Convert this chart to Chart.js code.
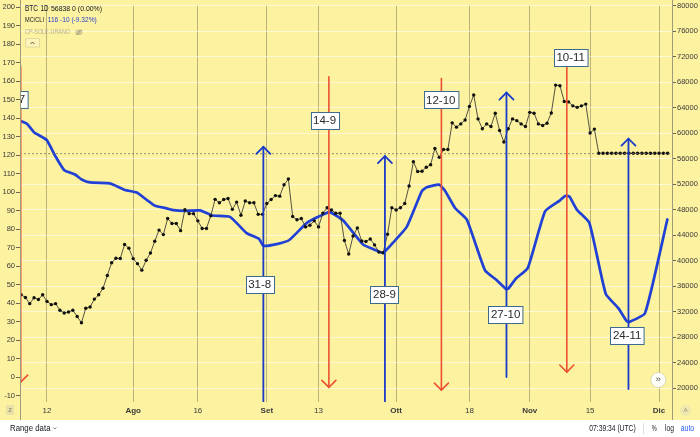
<!DOCTYPE html>
<html><head><meta charset="utf-8">
<script src="https://cdn.jsdelivr.net/npm/chart.js@4.4.1/dist/chart.umd.min.js"></script>
<style>html,body{margin:0;padding:0;background:#fff;}#wrap{width:700px;height:437px;position:relative;}</style>
</head><body><div id="wrap"><canvas id="c"></canvas></div>
<script>
// ---- data ----
const priceStartDay = -6; // day 0 = 12 July
const priceValues = [
34650,34230,33260,34180,33920,34650,33610,33100,33260,32220,31800,31960,32220,31250,30260,32530,32730,33970,34650,35670,
37680,39670,40370,40340,42530,41960,40310,39530,38510,40060,41190,43040,44790,44080,46600,45830,45830,44700,47990,47370,
47370,46240,45050,45050,47020,49610,49070,49580,49740,48040,49180,47110,49340,49070,49070,47260,47260,48970,49580,50200,
50110,51900,52790,46910,46400,46600,45290,45560,46240,45290,47450,48300,47950,47420,47420,43150,41030,43860,45130,43090,
43000,43400,42470,41340,41230,44130,48300,47950,48300,48970,51700,55520,53980,54020,54640,55030,57580,56190,57420,57420,
61600,60930,61440,62060,64180,65980,62220,60670,61440,61030,63100,60410,58610,60670,62220,61950,61440,61030,63250,63100,
61440,61180,61550,63150,67520,67430,64950,64890,64270,64030,64270,64540,60010,60620,
56838,56838,56838,56838,56838,56838,56838,56838,56838,56838,56838,56838,56838,56838,56838,56838,56838];
const lastPrice = 56838;
const mcDays = [-6.1,-4.7,-2.95,-0.07,1.86,4.01,6.5,8.05,9.98,14.62,15.78,18.1,20.81,23.13,25.06,27.77,29.3,32.02,35.5,38.4,
42.46,46.33,49.19,50.19,53.29,56.22,60.44,65.27,66.06,68.72,73.36,75.64,77.96,78.42,79.98,83.46,86.94,88.1,90.95,92.34,
94.66,97.38,101.62,104.34,106.5,107.03,108.82,111.53,115.55,119.03,120.19,121.18,122.9,125.82,129.63,132.55,134.5,135.1,138.75,143.92];
const mcValues = [138.5,137.1,132.3,128.2,119.8,111.9,109.6,106.9,105.3,104.8,103.7,101.2,99.8,95.9,92.7,91.3,90.3,89.9,90.2,87.4,
86.7,77.9,74.8,71.1,72.0,74.2,83.7,89.2,88.8,84.7,71.7,69.3,67.2,68.1,72.0,81.3,100.5,102.7,104.1,100.8,
91.5,85.3,57.8,52.5,47.7,48.0,53.4,59.0,89.7,95.6,98.0,97.7,90.6,83.5,45.1,37.4,30.3,29.9,34.7,85.3];
const xTickDays = [0,20,35,51,63,81,98,112,126,142];
const xTickLabels = ['12','Ago','16','Set','13','Ott','18','Nov','15','Dic'];
const monthLabels = ['Ago','Set','Ott','Nov','Dic'];
const leftTicks = [-10,0,10,20,30,40,50,60,70,80,90,100,110,120,130,140,150,160,170,180,190,200];
const rightTicks = [20000,24000,28000,32000,36000,40000,44000,48000,52000,56000,60000,64000,68000,72000,76000,80000];
// cycle markers (left-axis units)
const markLabels = ['6-7','31-8','14-9','28-9','12-10','27-10','10-11','24-11'];
const markDir    = ['down','up','down','up','down','up','down','up'];
const markDays   = [-6.1,50.2,65.4,78.4,91.5,106.6,120.6,134.9];
const markTail   = [167.8,-13.3,162.3,-13.3,161.4,0.2,174.2,-6.3];
const markTip    = [-2.6,124.5,-5.4,119.5,-6.9,153.8,2.9,128.9];
const boxDays    = [-7.0,49.35,64.4,78.3,91.35,106.4,121.5,134.6];
const boxLevels  = [150.2,50.1,138.8,45.0,149.9,34.0,172.6,22.8];

const FONT = '"Liberation Sans", Arial, sans-serif';
const BG = '#fcf2a0';
const BLUE = '#2040d6';
const ARROW_BLUE = '#1a3bc9';
const RED = '#ef4f33';

function fitText(ctx, s, x, y, w, px, color, weight) {
  ctx.save();
  ctx.font = (weight || 'normal') + ' ' + px + 'px ' + FONT;
  const m = ctx.measureText(s).width;
  ctx.translate(x, y);
  ctx.scale(w / m, 1);
  ctx.fillStyle = color;
  ctx.textBaseline = 'middle';
  ctx.textAlign = 'left';
  ctx.fillText(s, 0, 0);
  ctx.restore();
}

const bgPlugin = {
  id: 'bg',
  beforeDraw(chart) {
    const ctx = chart.ctx;
    ctx.save();
    ctx.fillStyle = BG;
    ctx.fillRect(0, 0, chart.width, 420);
    ctx.fillStyle = '#ffffff';
    ctx.fillRect(0, 420, chart.width, chart.height - 420);
    ctx.restore();
  }
};

const annotPlugin = {
  id: 'annot',
  afterDatasetsDraw(chart) {
    const {ctx, chartArea: a, scales} = chart;
    const x = scales.x, y = scales.y, y1 = scales.y1;
    ctx.save();
    ctx.beginPath();
    ctx.rect(a.left, a.top, a.right - a.left, a.bottom - a.top);
    ctx.clip();
    // last price dashed line
    const py = y1.getPixelForValue(lastPrice);
    ctx.strokeStyle = '#7d765c';
    ctx.lineWidth = 0.8;
    ctx.setLineDash([2, 2]);
    ctx.beginPath(); ctx.moveTo(a.left, py + 0.5); ctx.lineTo(a.right, py + 0.5); ctx.stroke();
    ctx.setLineDash([]);
    // arrows
    for (let i = 0; i < markDays.length; i++) {
      const px = x.getPixelForValue(markDays[i]);
      const t = y.getPixelForValue(markTail[i]);
      const p = y.getPixelForValue(markTip[i]);
      const up = markDir[i] === 'up';
      ctx.strokeStyle = up ? ARROW_BLUE : RED;
      ctx.lineWidth = up ? 1.8 : 1.6;
      ctx.lineCap = 'round';
      ctx.beginPath(); ctx.moveTo(px, t); ctx.lineTo(px, p); ctx.stroke();
      const d = up ? 7 : -7;
      ctx.beginPath();
      ctx.moveTo(px - 7, p + d); ctx.lineTo(px, p); ctx.lineTo(px + 7, p + d);
      ctx.stroke();
    }
    // label boxes
    ctx.font = '11.5px ' + FONT;
    ctx.textBaseline = 'middle';
    ctx.textAlign = 'center';
    for (let i = 0; i < markLabels.length; i++) {
      const cx = x.getPixelForValue(boxDays[i]);
      const cy = y.getPixelForValue(boxLevels[i]);
      const w = ctx.measureText(markLabels[i]).width + 5;
      const h = 17;
      const bx = Math.round(cx - w / 2) + 0.5, by = Math.round(cy - h / 2) + 0.5;
      ctx.fillStyle = '#ffffff';
      ctx.fillRect(bx, by, w, h);
      ctx.strokeStyle = '#3d6a8e';
      ctx.lineWidth = 1;
      ctx.strokeRect(bx, by, w, h);
      ctx.fillStyle = '#2a2a2a';
      ctx.fillText(markLabels[i], cx, cy + 0.5);
    }
    ctx.restore();
  },
  afterDraw(chart) {
    const ctx = chart.ctx;
    const a = chart.chartArea;
    ctx.save();
    // axis separators
    ctx.strokeStyle = '#a09a7c';
    ctx.lineWidth = 1;
    ctx.beginPath();
    ctx.moveTo(a.left + 0.5, 0); ctx.lineTo(a.left + 0.5, 420);
    ctx.moveTo(a.right + 0.5, 0); ctx.lineTo(a.right + 0.5, 420);
    ctx.stroke();
    // header legend
    fitText(ctx, 'BTC', 25, 8.5, 13, 9, '#131722');
    fitText(ctx, '1D', 40.5, 8.5, 8, 9, '#131722');
    fitText(ctx, '56838 0 (0.00%)', 51, 9, 51, 7.5, '#131722');
    fitText(ctx, 'MC/CLI', 25, 20, 19, 7, '#131722');
    fitText(ctx, '116 -10 (-9.32%)', 47.7, 20, 49, 7.5, '#2a3ecf');
    fitText(ctx, 'CP-SOLE-URANO', 25, 32.3, 45, 7.5, '#b7b094');
    // eye icon
    ctx.strokeStyle = '#9d977c';
    ctx.lineWidth = 0.8;
    ctx.beginPath(); ctx.ellipse(79, 32.3, 3, 2.2, 0, 0, Math.PI * 2); ctx.stroke();
    ctx.beginPath(); ctx.arc(79, 32.3, 1, 0, Math.PI * 2); ctx.stroke();
    ctx.beginPath(); ctx.moveTo(76, 35); ctx.lineTo(82, 29.5); ctx.stroke();
    // collapse box
    ctx.strokeStyle = '#d9d1a0';
    ctx.fillStyle = 'rgba(255,255,255,0.25)';
    ctx.beginPath(); ctx.rect(25.5, 38.5, 14, 8.5); ctx.fill(); ctx.stroke();
    ctx.strokeStyle = '#333';
    ctx.beginPath(); ctx.moveTo(30.5, 44); ctx.lineTo(32.5, 42); ctx.lineTo(34.5, 44); ctx.stroke();
    // scroll button
    ctx.fillStyle = 'rgba(255,255,255,0.95)';
    ctx.beginPath(); ctx.arc(658.3, 380, 7.5, 0, Math.PI * 2); ctx.fill();
    ctx.strokeStyle = '#c8c2a4';
    ctx.lineWidth = 0.6; ctx.stroke();
    fitText(ctx, '\u00bb', 655.5, 379.5, 5.5, 9, '#555');
    // bottom-left corner icon
    ctx.fillStyle = '#e9e1a6';
    ctx.fillRect(6, 405, 8, 10);
    fitText(ctx, 'z', 8.2, 410.5, 3.8, 7, '#8a8670');
    // bottom-right corner icon
    ctx.fillStyle = '#efe7ae';
    ctx.beginPath(); ctx.arc(685.5, 410.5, 5.5, 0, Math.PI * 2); ctx.fill();
    fitText(ctx, 'A', 683.5, 410.5, 4.2, 6, '#9a957c');
    // bottom strip
    fitText(ctx, 'Range data', 10, 428.5, 40.5, 8.5, '#131722');
    ctx.strokeStyle = '#555';
    ctx.lineWidth = 0.8;
    ctx.beginPath(); ctx.moveTo(53.3, 427.5); ctx.lineTo(54.8, 429); ctx.lineTo(56.3, 427.5); ctx.stroke();
    fitText(ctx, '07:39:34 (UTC)', 589.3, 428.5, 46.4, 8.5, '#131722');
    ctx.strokeStyle = '#d6d6d6';
    ctx.beginPath(); ctx.moveTo(643.5, 423); ctx.lineTo(643.5, 434); ctx.stroke();
    fitText(ctx, '%', 651.7, 428.5, 5, 8.5, '#131722');
    fitText(ctx, 'log', 665, 428.5, 9, 8.5, '#131722');
    fitText(ctx, 'auto', 680.7, 428.5, 13.5, 8.5, '#2962ff');
    ctx.restore();
  }
};

const priceData = priceValues.map((v, i) => ({x: priceStartDay + i, y: v}));
const mcData = mcDays.map((d, i) => ({x: d, y: mcValues[i]}));

new Chart(document.getElementById('c'), {
  type: 'line',
  data: {
    datasets: [
      {
        label: 'BTC', data: priceData, yAxisID: 'y1',
        borderColor: '#2a2a2a', borderWidth: 0.8,
        pointRadius: 1.7, pointBackgroundColor: '#111', pointBorderWidth: 0, pointHoverRadius: 0,
        tension: 0
      },
      {
        label: 'MC/CLI', data: mcData, yAxisID: 'y',
        borderColor: BLUE, borderWidth: 2.7, borderJoinStyle: 'round', borderCapStyle: 'round',
        pointRadius: 0, tension: 0.15
      }
    ]
  },
  options: {
    responsive: true, maintainAspectRatio: false, animation: false, events: [],
    layout: {autoPadding: false, padding: {top: 0, left: 0, right: 0, bottom: 17}},
    plugins: {legend: {display: false}, tooltip: {enabled: false}},
    scales: {
      x: {
        type: 'linear', min: -6.26, max: 145,
        afterFit: s => { s.height = 18; },
        afterBuildTicks: s => { s.ticks = xTickDays.map(v => ({value: v})); },
        ticks: {
          autoSkip: false, maxRotation: 0, padding: 4, color: '#3a3a3a',
          font: c => ({family: FONT, size: 8, weight: monthLabels.includes(xTickLabels[c.index]) ? 'bold' : 'normal'}),
          callback: (v, i) => xTickLabels[i]
        },
        grid: {color: 'rgba(120,114,88,0.5)', lineWidth: 1, drawTicks: false},
        border: {display: false}
      },
      y: {
        position: 'left', min: -13.3, max: 200.85,
        afterFit: s => { s.width = 20; },
        afterBuildTicks: s => { s.ticks = leftTicks.map(v => ({value: v})); },
        ticks: {padding: 1, color: '#3a3a3a', font: {family: FONT, size: 7.5}, callback: v => String(v)},
        grid: {drawOnChartArea: false, drawTicks: true, tickLength: 4, tickColor: '#6b6752'},
        border: {display: false}
      },
      y1: {
        position: 'right', min: 17839, max: 80000,
        afterFit: s => { s.width = 28; },
        afterBuildTicks: s => { s.ticks = rightTicks.map(v => ({value: v})); },
        ticks: {padding: 1, color: '#3a3a3a', font: {family: FONT, size: 7.5}, callback: v => String(v)},
        grid: {drawOnChartArea: true, color: 'rgba(255,255,255,0.55)', lineWidth: 1, drawTicks: true, tickLength: 4, tickColor: '#6b6752'},
        border: {display: false}
      }
    }
  },
  plugins: [bgPlugin, annotPlugin]
});
</script></body></html>
